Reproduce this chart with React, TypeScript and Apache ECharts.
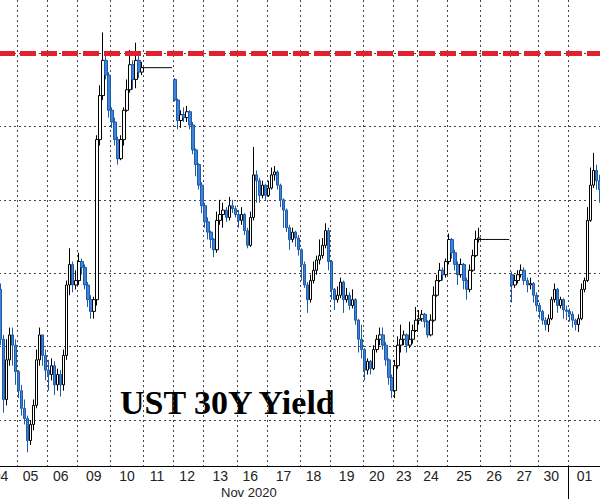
import React, { useEffect, useRef } from 'react';
import * as echarts from 'echarts';

// Trading days shown on the axis and how many intraday bars each one holds
const dayLabels = ['04', '05', '06', '09', '10', '11', '12', '13', '16', '17', '18', '19', '20', '23', '24', '25', '26', '27', '30', '01'];
const barsPerDay = [6, 10, 10, 11, 11, 10, 10, 11, 10, 11, 10, 11, 10, 8, 10, 11, 10, 9, 10, 11];
const monthLabel = 'Nov 2020';
const title = 'UST 30Y Yield';

// UST 30Y yield (%), intraday bars: close / high / low (null = market closed)
const closes = [
  1.555, 1.514, 1.541, 1.558, 1.551, 1.533, // 04
  1.520, 1.508, 1.501, 1.486, 1.497, 1.510, 1.541, 1.558, 1.544, 1.534, // 05
  1.531, 1.537, 1.524, 1.531, 1.524, 1.544, 1.592, 1.606, 1.592, 1.595, // 06
  1.608, 1.604, 1.592, 1.582, 1.574, 1.582, 1.691, 1.721, 1.745, 1.735, 1.711, // 09
  1.703, 1.691, 1.678, 1.691, 1.711, 1.725, 1.742, 1.732, 1.745, 1.737, 1.740, // 10
  null, null, null, null, null, null, null, null, null, null, // 11
  1.718, 1.704, 1.708, 1.706, 1.710, 1.701, 1.684, 1.674, 1.660, 1.646, // 12
  1.635, 1.628, 1.623, 1.616, 1.636, 1.640, 1.643, 1.638, 1.646, 1.644, 1.640, // 13
  1.636, 1.640, 1.629, 1.619, 1.638, 1.667, 1.663, 1.653, 1.660, 1.653, // 16
  1.658, 1.667, 1.669, 1.660, 1.650, 1.643, 1.631, 1.623, 1.628, 1.624, 1.616, // 17
  1.606, 1.592, 1.582, 1.595, 1.602, 1.609, 1.612, 1.619, 1.629, 1.608, // 18
  1.589, 1.582, 1.585, 1.594, 1.582, 1.585, 1.578, 1.582, 1.568, 1.555, 1.548, // 19
  1.534, 1.540, 1.535, 1.548, 1.555, 1.558, 1.551, 1.541, 1.529, 1.520, // 20
  1.537, 1.551, 1.555, 1.558, 1.551, 1.555, 1.561, 1.568, // 23
  1.569, 1.572, 1.567, 1.558, 1.568, 1.585, 1.595, 1.602, 1.599, 1.608, // 24
  1.623, 1.614, 1.606, 1.599, 1.606, 1.595, 1.589, 1.602, 1.612, 1.623, 1.624, // 25
  null, null, null, null, null, null, null, null, null, null, // 26
  1.592, 1.595, 1.599, 1.602, 1.595, 1.592, 1.593, 1.585, 1.578, // 27
  1.574, 1.568, 1.565, 1.569, 1.582, 1.589, 1.578, 1.582, 1.575, 1.574, // 30
  1.572, 1.568, 1.565, 1.569, 1.589, 1.595, 1.636, 1.660, 1.670, 1.663, 1.657, // 01
];
const highs = [
  1.593, 1.558, 1.555, 1.563, 1.563, 1.555,
  1.534, 1.524, 1.514, 1.503, 1.500, 1.514, 1.548, 1.563, 1.558, 1.548,
  1.541, 1.542, 1.540, 1.535, 1.534, 1.548, 1.595, 1.617, 1.608, 1.602,
  1.614, 1.610, 1.606, 1.594, 1.585, 1.584, 1.694, 1.728, 1.764, 1.749, 1.737,
  1.713, 1.706, 1.693, 1.694, 1.713, 1.732, 1.752, 1.745, 1.757, 1.749, 1.744,
  null, null, null, null, null, null, null, null, null, null,
  1.733, 1.719, 1.711, 1.713, 1.714, 1.711, 1.703, 1.685, 1.675, 1.662,
  1.648, 1.638, 1.629, 1.624, 1.642, 1.650, 1.648, 1.645, 1.652, 1.650, 1.646,
  1.643, 1.645, 1.641, 1.631, 1.642, 1.686, 1.670, 1.665, 1.663, 1.661,
  1.663, 1.672, 1.673, 1.670, 1.661, 1.651, 1.644, 1.633, 1.631, 1.629, 1.626,
  1.617, 1.608, 1.594, 1.599, 1.608, 1.612, 1.623, 1.624, 1.634, 1.631,
  1.609, 1.590, 1.591, 1.597, 1.595, 1.590, 1.587, 1.589, 1.583, 1.569, 1.565,
  1.549, 1.542, 1.541, 1.551, 1.558, 1.563, 1.563, 1.553, 1.542, 1.531,
  1.541, 1.557, 1.565, 1.561, 1.559, 1.567, 1.565, 1.577,
  1.575, 1.575, 1.573, 1.568, 1.572, 1.591, 1.599, 1.607, 1.604, 1.610,
  1.627, 1.624, 1.616, 1.608, 1.610, 1.607, 1.597, 1.606, 1.616, 1.629, 1.631,
  null, null, null, null, null, null, null, null, null, null,
  1.601, 1.599, 1.602, 1.606, 1.604, 1.597, 1.597, 1.594, 1.587,
  1.580, 1.575, 1.570, 1.572, 1.584, 1.593, 1.590, 1.584, 1.583, 1.578,
  1.576, 1.574, 1.569, 1.572, 1.593, 1.597, 1.645, 1.672, 1.682, 1.674, 1.667,
];
const lows = [
  1.551, 1.505, 1.510, 1.537, 1.537, 1.524,
  1.515, 1.503, 1.497, 1.478, 1.483, 1.493, 1.508, 1.537, 1.537, 1.527,
  1.520, 1.527, 1.517, 1.520, 1.516, 1.520, 1.541, 1.585, 1.587, 1.589,
  1.592, 1.599, 1.589, 1.577, 1.569, 1.569, 1.578, 1.687, 1.718, 1.732, 1.706,
  1.699, 1.687, 1.674, 1.677, 1.687, 1.710, 1.723, 1.725, 1.726, 1.733, 1.735,
  null, null, null, null, null, null, null, null, null, null,
  1.717, 1.698, 1.699, 1.703, 1.703, 1.698, 1.681, 1.666, 1.657, 1.641,
  1.631, 1.623, 1.617, 1.611, 1.614, 1.633, 1.631, 1.635, 1.636, 1.641, 1.638,
  1.631, 1.633, 1.626, 1.617, 1.618, 1.636, 1.648, 1.648, 1.651, 1.650,
  1.652, 1.657, 1.663, 1.657, 1.645, 1.631, 1.628, 1.616, 1.621, 1.618, 1.612,
  1.595, 1.590, 1.573, 1.580, 1.593, 1.599, 1.606, 1.610, 1.617, 1.602,
  1.582, 1.575, 1.580, 1.583, 1.573, 1.580, 1.575, 1.576, 1.565, 1.546, 1.542,
  1.527, 1.531, 1.531, 1.534, 1.546, 1.551, 1.548, 1.537, 1.524, 1.515,
  1.515, 1.535, 1.546, 1.551, 1.546, 1.549, 1.552, 1.560,
  1.565, 1.567, 1.563, 1.556, 1.557, 1.567, 1.584, 1.594, 1.595, 1.597,
  1.606, 1.610, 1.602, 1.592, 1.597, 1.589, 1.582, 1.587, 1.601, 1.611, 1.621,
  null, null, null, null, null, null, null, null, null, null,
  1.580, 1.590, 1.593, 1.597, 1.592, 1.587, 1.589, 1.580, 1.574,
  1.569, 1.565, 1.561, 1.560, 1.568, 1.580, 1.573, 1.576, 1.569, 1.568,
  1.567, 1.563, 1.561, 1.560, 1.568, 1.587, 1.594, 1.635, 1.658, 1.657, 1.648,
];
// opening level of bars that start a session after a gap
const sessionOpens: Record<number, number> = { 0: 1.589, 58: 1.732, 170: 1.599 };
// holidays: yield held flat at last level
const holidayDays = ['11', '26'];
const holidayLevels = [1.740, 1.623];
const resistanceLevel = 1.75;
const yMin = 1.4687;
const yMax = 1.7861;

export default function App() {
  const ref = useRef<HTMLDivElement>(null);
  useEffect(() => {
    if (!ref.current) return;
    const chart = echarts.init(ref.current, undefined, { renderer: 'svg' });

    const categories: string[] = [];
    const dayStart: number[] = [];
    dayLabels.forEach((d, di) => {
      dayStart.push(categories.length);
      for (let k = 0; k < barsPerDay[di]; k++) categories.push(`${d}-${k}`);
    });
    const labelIdx = new Set<number>();
    dayLabels.forEach((d, di) => {
      labelIdx.add(di === 0 ? 0 : dayStart[di] + Math.floor((barsPerDay[di] - 1) / 2));
    });
    const splitIdx = new Set<number>(dayStart.filter((s) => s > 0));
    const monthIdx = dayStart[dayLabels.indexOf('01')];

    const candles = closes.map((c, i) => {
      if (c == null) return ['-', '-', '-', '-'];
      const o = sessionOpens[i] != null ? sessionOpens[i] : (closes[i - 1] as number);
      const lo = Math.min(lows[i] as number, o, c);
      const hi = Math.max(highs[i] as number, o, c);
      return [o, c, lo, hi];
    });

    const flat: (number | null)[] = closes.map(() => null);
    holidayDays.forEach((d, hi) => {
      const di = dayLabels.indexOf(d);
      const s = dayStart[di];
      for (let i = s - 1; i < s + barsPerDay[di]; i++) flat[i] = holidayLevels[hi];
    });

    chart.setOption({
      animation: false,
      backgroundColor: '#ffffff',
      grid: { left: -1, right: -1, top: 0, bottom: 33, containLabel: false, outerBoundsMode: 'none' },
      xAxis: {
        type: 'category',
        data: categories,
        boundaryGap: true,
        axisLine: { show: true, lineStyle: { color: '#000', width: 1 } },
        axisTick: {
          show: true,
          interval: (i: number) => i === 0 || i === monthIdx,
          length: 33,
          lineStyle: { color: '#000', width: 1 },
        },
        axisLabel: {
          interval: (i: number) => labelIdx.has(i),
          formatter: (v: string) => v.split('-')[0],
          color: '#222',
          fontSize: 14,
          fontFamily: 'Liberation Sans',
          margin: 3,
          hideOverlap: false,
        },
        splitLine: {
          show: true,
          interval: (i: number) => splitIdx.has(i),
          lineStyle: { color: '#444', width: 1, type: [2, 3] },
        },
      },
      yAxis: {
        type: 'value',
        min: yMin,
        max: yMax,
        position: 'right',
        axisLine: { show: false },
        axisTick: { show: false },
        axisLabel: { show: false },
        splitLine: {
          show: true,
          showMinLine: false,
          showMaxLine: false,
          lineStyle: { color: '#444', width: 1, type: [2, 3] },
        },
      },
      series: [
        {
          type: 'candlestick',
          data: candles,
          barWidth: 3,
          itemStyle: {
            color: '#ffffff',
            color0: '#3a84da',
            borderColor: '#000000',
            borderColor0: '#1f5aa8',
            borderWidth: 1,
          },
          markLine: {
            silent: true,
            symbol: 'none',
            label: { show: false },
            lineStyle: { color: '#e3202f', width: 5, type: [16, 5] },
            data: [{ yAxis: resistanceLevel }],
          },
        },
        {
          type: 'line',
          data: flat,
          symbol: 'none',
          connectNulls: false,
          lineStyle: { color: '#000', width: 1 },
          z: 1,
        },
      ],
      graphic: [
        {
          type: 'text',
          left: 221,
          top: 486,
          style: { text: monthLabel, fontSize: 13, fill: '#222', fontFamily: 'Liberation Sans' },
        },
        {
          type: 'text',
          x: 120,
          y: 402,
          style: {
            text: title,
            fontSize: 34,
            fontWeight: 'bold',
            fill: '#000',
            fontFamily: 'Liberation Serif',
            verticalAlign: 'middle',
            align: 'left',
          },
        },
      ],
    });
    return () => chart.dispose();
  }, []);
  return <div ref={ref} style={{ position: 'fixed', left: 0, top: 0, width: 600, height: 499 }} />;
}
